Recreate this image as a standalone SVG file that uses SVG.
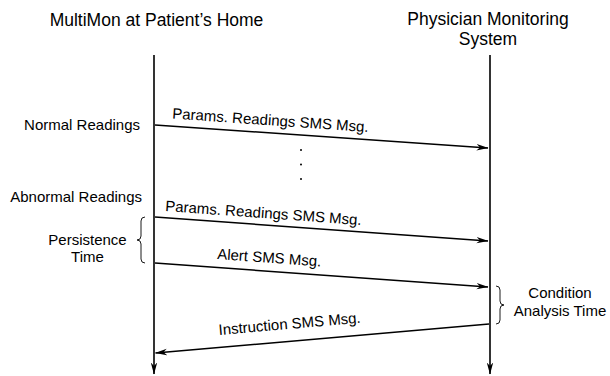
<svg xmlns="http://www.w3.org/2000/svg" width="610" height="376" viewBox="0 0 610 376">
  <style>
    text { font-family: "Liberation Sans", Arial, sans-serif; fill: #000; }
    .title { font-size: 17.5px; text-anchor: middle; }
    .lbl { font-size: 15px; }
    .mid { text-anchor: middle; }
    .end { text-anchor: end; }
    .life { stroke: #000; stroke-width: 1.6; fill: none; }
    .msg { stroke: #000; stroke-width: 1.5; fill: none; marker-end: url(#arrow); }
    .brace { stroke: #000; stroke-width: 0.9; fill: none; }
  </style>
  <defs>
    <marker id="arrow" markerUnits="userSpaceOnUse" viewBox="0 0 12 8" refX="11.5" refY="4" markerWidth="12" markerHeight="8" orient="auto">
      <path d="M0,0.8 L12,4 L0,7.2 L3.5,4 z" fill="#000"/>
    </marker>
  </defs>

  <rect width="610" height="376" fill="#fff"/>

  <!-- participants -->
  <g id="multimon">
    <text class="title" x="156.5" y="26">MultiMon at Patient’s Home</text>
    <line class="life" x1="154" y1="55" x2="154" y2="374" marker-end="url(#arrow)"/>
  </g>
  <g id="physician">
    <text class="title" x="488" y="25">Physician Monitoring</text>
    <text class="title" x="488" y="45">System</text>
    <line class="life" x1="490" y1="55" x2="490" y2="374" marker-end="url(#arrow)"/>
  </g>

  <!-- side annotations -->
  <g id="normal-readings">
    <text class="lbl end" x="140" y="130">Normal Readings</text>
  </g>
  <g id="abnormal-readings">
    <text class="lbl end" x="142" y="202">Abnormal Readings</text>
  </g>
  <g id="persistence-time">
    <path class="brace" d="M145,217 Q141,217 141,221 L141,236 Q141,240 137,240 Q141,240 141,244 L141,259 Q141,263 145,263"/>
    <text class="lbl mid" x="87.5" y="245">Persistence</text>
    <text class="lbl mid" x="87.5" y="262">Time</text>
  </g>
  <g id="condition-analysis-time">
    <path class="brace" d="M496,286 Q500,286 500,290 L500,301 Q500,305 504,305 Q500,305 500,309 L500,320 Q500,324 496,324"/>
    <text class="lbl mid" x="560" y="298">Condition</text>
    <text class="lbl mid" x="560" y="316">Analysis Time</text>
  </g>

  <!-- messages -->
  <g id="connectors">
    <line class="msg" x1="155" y1="125" x2="488" y2="148"/>
    <text class="lbl" transform="translate(172,118.5) rotate(3.95)">Params. Readings SMS Msg.</text>

    <circle cx="301" cy="150" r="1" fill="#000"/>
    <circle cx="301" cy="164.5" r="1" fill="#000"/>
    <circle cx="301" cy="179" r="1" fill="#000"/>

    <line class="msg" x1="155" y1="217" x2="488" y2="241"/>
    <text class="lbl" transform="translate(165,211) rotate(4.1)">Params. Readings SMS Msg.</text>

    <line class="msg" x1="155" y1="263" x2="488" y2="287"/>
    <text class="lbl" transform="translate(217,259) rotate(4.1)">Alert SMS Msg.</text>

    <line class="msg" x1="489" y1="324" x2="155.5" y2="353"/>
    <text class="lbl" transform="translate(219,335) rotate(-4.96)">Instruction SMS Msg.</text>
  </g>
</svg>
